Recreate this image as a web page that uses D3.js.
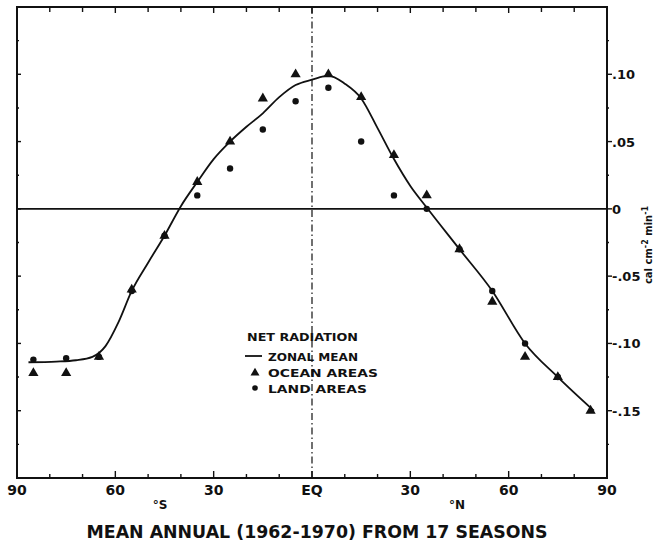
<!DOCTYPE html>
<html><head><meta charset="utf-8">
<script src="https://cdn.jsdelivr.net/npm/d3@7"></script>
<style>
html,body{margin:0;padding:0;background:#fff;}
svg text{font-family:"DejaVu Sans",sans-serif;fill:#111;}
</style></head>
<body><svg id="c" width="659" height="546"></svg>
<script>
// ---- data ----
const latitudes = [-85,-75,-65,-55,-45,-35,-25,-15,-5,5,15,25,35,45,55,65,75,85];
const oceanValues = [-0.122,-0.122,-0.110,-0.060,-0.020,0.020,0.050,0.082,0.100,0.100,0.083,0.040,0.010,-0.030,-0.069,-0.110,-0.125,-0.150];
const landValues  = [-0.112,-0.111,-0.110,-0.061,-0.020,0.010,0.030,0.059,0.080,0.090,0.050,0.010,0.000,-0.030,-0.061,-0.100,-0.125,null];
const meanLat    = [-86.5,-78,-72,-67,-63,-59,-55,-50,-45,-40,-35,-30,-25,-20,-15,-10,-5,0,5,10,15,20,25,30,35,45,55,65,75,86];
const meanValues = [-0.114,-0.1135,-0.1125,-0.110,-0.102,-0.084,-0.061,-0.040,-0.020,0.002,0.020,0.037,0.050,0.061,0.071,0.083,0.092,0.096,0.099,0.093,0.082,0.060,0.037,0.017,0.001,-0.030,-0.061,-0.100,-0.125,-0.150];
const xTickValues = [-90,-60,-30,0,30,60,90];
const xTickLabels = ["90","60","30","EQ","30","60","90"];
const yTickValues = [0.10,0.05,0,-0.05,-0.10,-0.15];
const yTickLabels = [".10",".05","0","-.05","-.10","-.15"];
const legendItems = ["ZONAL MEAN","OCEAN AREAS","LAND AREAS"];

const svg = d3.select("#c");
const L=17,R=607,T=7,B=478;
const x = d3.scaleLinear().domain([-90,90]).range([L,R]);
const y = d3.scaleLinear().domain([-0.2,0.15]).range([B,T]);
const ink="#111";

// frame
svg.append("rect").attr("x",L).attr("y",T).attr("width",R-L).attr("height",B-T)
  .attr("fill","none").attr("stroke",ink).attr("stroke-width",2);

// zero line and equator line
svg.append("line").attr("x1",L).attr("x2",R).attr("y1",y(0)).attr("y2",y(0))
  .attr("stroke",ink).attr("stroke-width",1.6);
svg.append("line").attr("x1",x(0)).attr("x2",x(0)).attr("y1",T).attr("y2",B)
  .attr("stroke",ink).attr("stroke-width",1.2).attr("stroke-dasharray","7,3,1.5,3");

// x ticks (inward) top & bottom
const xMinor = d3.range(-80,90,10);
xMinor.forEach(v=>{
  const major = v%30===0;
  svg.append("line").attr("x1",x(v)).attr("x2",x(v)).attr("y1",B).attr("y2",B-(major?7:4))
    .attr("stroke",ink).attr("stroke-width",1.4);
  svg.append("line").attr("x1",x(v)).attr("x2",x(v)).attr("y1",T).attr("y2",T+(major?6:5))
    .attr("stroke",ink).attr("stroke-width",1.4);
});
// y ticks: left inward, right outward
const yMinor = d3.range(-0.175,0.15,0.025);
yMinor.forEach(v=>{
  const major = Math.abs(Math.round(v*1000)%50)===0;
  svg.append("line").attr("x1",L).attr("x2",L+(major?4:2)).attr("y1",y(v)).attr("y2",y(v))
    .attr("stroke",ink).attr("stroke-width",1.4);
  svg.append("line").attr("x1",R).attr("x2",R+(major?5:2)).attr("y1",y(v)).attr("y2",y(v))
    .attr("stroke",ink).attr("stroke-width",1.4);
});

// x tick labels
svg.append("g").selectAll("text").data(xTickValues).join("text")
  .attr("x",d=>x(d)).attr("y",495).attr("text-anchor","middle")
  .attr("font-size",14).attr("font-weight","bold")
  .text((d,i)=>xTickLabels[i]);
// y tick labels (right)
svg.append("g").selectAll("text").data(yTickValues).join("text")
  .attr("x",R+5).attr("y",d=>y(d)+5).attr("text-anchor","start")
  .attr("font-size",13).attr("font-weight","bold")
  .text((d,i)=>yTickLabels[i]);

// hemisphere labels
svg.append("text").attr("x",160).attr("y",509).attr("text-anchor","middle")
  .attr("font-size",12).attr("font-weight","bold").text("°S");
svg.append("text").attr("x",457).attr("y",509).attr("text-anchor","middle")
  .attr("font-size",12).attr("font-weight","bold").text("°N");

// title
svg.append("text").attr("x",317).attr("y",538).attr("text-anchor","middle")
  .attr("font-size",17).attr("font-weight","bold")
  .attr("textLength",461).attr("lengthAdjust","spacingAndGlyphs")
  .text("MEAN ANNUAL (1962-1970) FROM 17 SEASONS");

// right unit label
const ul = svg.append("text").attr("transform","translate(652,245) rotate(-90)")
  .attr("text-anchor","middle").attr("font-size",10).attr("font-weight","bold");
ul.append("tspan").text("cal cm");
ul.append("tspan").attr("dy",-4).attr("font-size",8).text("-2");
ul.append("tspan").attr("dy",4).text(" min");
ul.append("tspan").attr("dy",-4).attr("font-size",8).text("-1");

// zonal mean curve
const meanPts = meanLat.map((d,i)=>[d,meanValues[i]]);
svg.append("path").datum(meanPts)
  .attr("d",d3.line().x(d=>x(d[0])).y(d=>y(d[1])).curve(d3.curveMonotoneX))
  .attr("fill","none").attr("stroke",ink).attr("stroke-width",1.8);

// markers
const tri = d3.symbol().type(d3.symbolTriangle).size(45);
svg.append("g").selectAll("path").data(latitudes.map((d,i)=>[d,oceanValues[i]]))
  .join("path").attr("d",tri).attr("transform",d=>`translate(${x(d[0])},${y(d[1])})`)
  .attr("fill",ink);
svg.append("g").selectAll("circle").data(latitudes.map((d,i)=>[d,landValues[i]]).filter(d=>d[1]!==null))
  .join("circle").attr("cx",d=>x(d[0])).attr("cy",d=>y(d[1])).attr("r",3.2).attr("fill",ink);

// legend
svg.append("text").attr("x",247).attr("y",341).attr("font-size",11).attr("font-weight","bold")
  .attr("textLength",111).attr("lengthAdjust","spacingAndGlyphs").text("NET RADIATION");
svg.append("line").attr("x1",245).attr("x2",262).attr("y1",356).attr("y2",356)
  .attr("stroke",ink).attr("stroke-width",1.8);
svg.append("path").attr("d",d3.symbol().type(d3.symbolTriangle).size(35))
  .attr("transform","translate(255,373)").attr("fill",ink);
svg.append("circle").attr("cx",255).attr("cy",388).attr("r",2.8).attr("fill",ink);
const legW=[90,110,99];
svg.append("g").selectAll("text").data(legendItems).join("text")
  .attr("x",268).attr("y",(d,i)=>361+i*16).attr("font-size",11).attr("font-weight","bold")
  .attr("textLength",(d,i)=>legW[i]).attr("lengthAdjust","spacingAndGlyphs")
  .text(d=>d);
</script></body></html>
